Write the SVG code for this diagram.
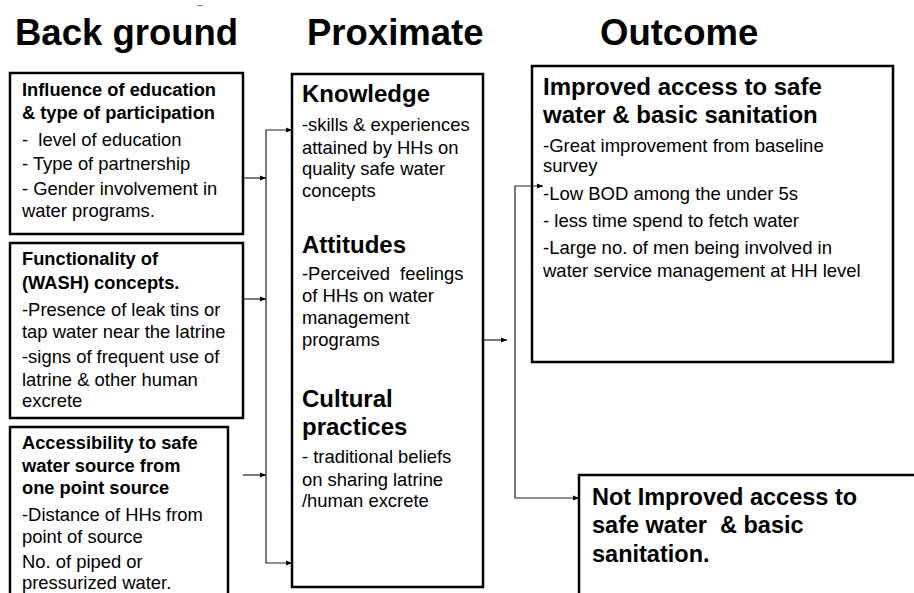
<svg xmlns="http://www.w3.org/2000/svg" width="914" height="593" viewBox="0 0 914 593">
<style>
.box{fill:#fff;stroke:#000;stroke-width:2.5}
.t{font-family:"Liberation Sans",Arial,sans-serif;fill:#000}
.title{font-size:36.5px;font-weight:bold}
.lh{font-size:18.3px;font-weight:bold}
.lb{font-size:18.4px}
.mh{font-size:24px;font-weight:bold}
.mb{font-size:18.4px}
.rh{font-size:24px;font-weight:bold}
.rb{font-size:18.5px}
.bh{font-size:23.5px;font-weight:bold}
.conn{fill:none;stroke:#222;stroke-width:1.2}
</style>
<defs>
<marker id="ah" viewBox="0 0 10 10" refX="10" refY="5" markerWidth="6" markerHeight="6" markerUnits="userSpaceOnUse" orient="auto-start-reverse">
<path d="M0,1 L10,5 L0,9 Z" fill="#000"/>
</marker>
</defs>
<rect width="914" height="593" fill="#fff"/>
<line x1="197" y1="5.5" x2="203" y2="5.5" stroke="#888" stroke-width="1"/>
<g id="titles">
<text class="t title" x="15" y="45">Back ground</text>
<text class="t title" x="307" y="45">Proximate</text>
<text class="t title" x="600" y="45">Outcome</text>
</g>
<g id="bg1">
<rect class="box" x="10" y="73" width="233" height="161"/>
<text class="t lh" x="22" y="96">Influence of education</text>
<text class="t lh" x="22" y="119">&amp; type of participation</text>
<text class="t lb" x="22" y="146" xml:space="preserve">-  level of education</text>
<text class="t lb" x="22" y="170">- Type of partnership</text>
<text class="t lb" x="22" y="195">- Gender involvement in</text>
<text class="t lb" x="22" y="217">water programs.</text>
</g>
<g id="bg2">
<rect class="box" x="10" y="243" width="233" height="175"/>
<text class="t lh" x="22" y="265">Functionality of</text>
<text class="t lh" x="22" y="289">(WASH) concepts.</text>
<text class="t lb" x="22" y="316">-Presence of leak tins or</text>
<text class="t lb" x="22" y="338">tap water near the latrine</text>
<text class="t lb" x="22" y="363">-signs of frequent use of</text>
<text class="t lb" x="22" y="386">latrine &amp; other human</text>
<text class="t lb" x="22" y="407">excrete</text>
</g>
<g id="bg3">
<rect class="box" x="10" y="427" width="218" height="190"/>
<text class="t lh" x="22" y="449">Accessibility to safe</text>
<text class="t lh" x="22" y="472">water source from</text>
<text class="t lh" x="22" y="494">one point source</text>
<text class="t lb" x="22" y="521">-Distance of HHs from</text>
<text class="t lb" x="22" y="543">point of source</text>
<text class="t lb" x="22" y="568">No. of piped or</text>
<text class="t lb" x="22" y="589">pressurized water.</text>
</g>
<g id="proximate">
<rect class="box" x="292" y="74" width="191" height="513"/>
<text class="t mh" x="302" y="102">Knowledge</text>
<text class="t mb" x="302" y="131">-skills &amp; experiences</text>
<text class="t mb" x="302" y="154">attained by HHs on</text>
<text class="t mb" x="302" y="175">quality safe water</text>
<text class="t mb" x="302" y="197">concepts</text>
<text class="t mh" x="302" y="253">Attitudes</text>
<text class="t mb" x="302" y="280" xml:space="preserve">-Perceived  feelings</text>
<text class="t mb" x="302" y="302">of HHs on water</text>
<text class="t mb" x="302" y="324">management</text>
<text class="t mb" x="302" y="346">programs</text>
<text class="t mh" x="302" y="407">Cultural</text>
<text class="t mh" x="302" y="435">practices</text>
<text class="t mb" x="302" y="463">- traditional beliefs</text>
<text class="t mb" x="302" y="486">on sharing latrine</text>
<text class="t mb" x="302" y="507">/human excrete</text>
</g>
<g id="improved">
<rect class="box" x="532" y="66" width="361" height="296"/>
<text class="t rh" x="543" y="95">Improved access to safe</text>
<text class="t rh" x="543" y="123">water &amp; basic sanitation</text>
<text class="t rb" x="543" y="152">-Great improvement from baseline</text>
<text class="t rb" x="543" y="172">survey</text>
<text class="t rb" x="543" y="200">-Low BOD among the under 5s</text>
<text class="t rb" x="543" y="227">- less time spend to fetch water</text>
<text class="t rb" x="543" y="254">-Large no. of men being involved in</text>
<text class="t rb" x="543" y="277">water service management at HH level</text>
</g>
<g id="not-improved">
<rect class="box" x="579" y="475" width="345" height="140"/>
<text class="t bh" x="592" y="505">Not Improved access to</text>
<text class="t bh" x="592" y="533" xml:space="preserve">safe water  &amp; basic</text>
<text class="t bh" x="592" y="562">sanitation.</text>
</g>
<g id="connectors">
<path class="conn" d="M243,178 H266" marker-end="url(#ah)"/>
<path class="conn" d="M243,299 H266" marker-end="url(#ah)"/>
<path class="conn" d="M243,475 H266" marker-end="url(#ah)"/>
<path class="conn" d="M292,130 H266 V563 H292" marker-start="url(#ah)" marker-end="url(#ah)"/>
<path class="conn" d="M483,340 H507" marker-end="url(#ah)"/>
<path class="conn" d="M543,186 H515 V498 H579" marker-start="url(#ah)" marker-end="url(#ah)"/>
</g>
</svg>
